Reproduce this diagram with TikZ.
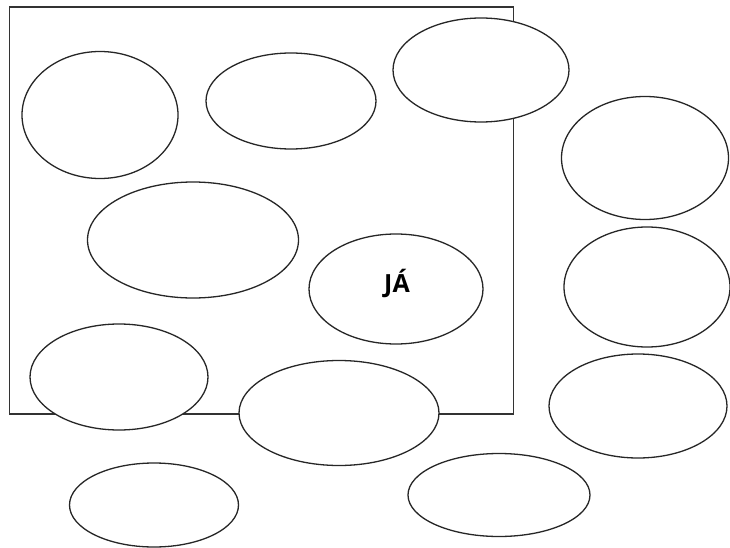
\documentclass[tikz,border=0pt]{standalone}
\usepackage{fontspec}
\newfontfamily\labelfont{Open Sans}
\usetikzlibrary{shapes.geometric}
\begin{document}
\begin{tikzpicture}[x=1pt,y=-1pt,
  bubble/.style={ellipse,draw=black!85,line width=1.3pt,fill=white,inner sep=0pt},
  frame/.style={draw=black!80,line width=1.3pt}]
\useasboundingbox (0,0) rectangle (730,548);
\node[frame,rectangle,minimum width=504pt,minimum height=407pt,inner sep=0pt] (box) at (261.5,210.5) {};
\node[bubble,minimum width=156pt,minimum height=127pt] (e1) at (100,115) {};
\node[bubble,minimum width=170pt,minimum height=96pt] (e2) at (291,101) {};
\node[bubble,minimum width=176pt,minimum height=104pt] (e3) at (481,70) {};
\node[bubble,minimum width=167pt,minimum height=123pt] (e4) at (645,158) {};
\node[bubble,minimum width=211pt,minimum height=116pt] (e5) at (193,240) {};
\node[bubble,minimum width=174pt,minimum height=110pt] (e6) at (396,289) {};
\node[bubble,minimum width=166pt,minimum height=120pt] (e7) at (647,287) {};
\node[bubble,minimum width=178pt,minimum height=106pt] (e8) at (119,377) {};
\node[bubble,minimum width=200pt,minimum height=105pt] (e9) at (339,413) {};
\node[bubble,minimum width=178pt,minimum height=104pt] (e10) at (638,406) {};
\node[bubble,minimum width=169pt,minimum height=84pt] (e11) at (154,505) {};
\node[bubble,minimum width=182pt,minimum height=83pt] (e12) at (499,495) {};
\node[font=\labelfont\bfseries\fontsize{25}{28}\selectfont,inner sep=0pt,anchor=base] (ja) at (397,292) {JÁ};
\end{tikzpicture}
\end{document}
